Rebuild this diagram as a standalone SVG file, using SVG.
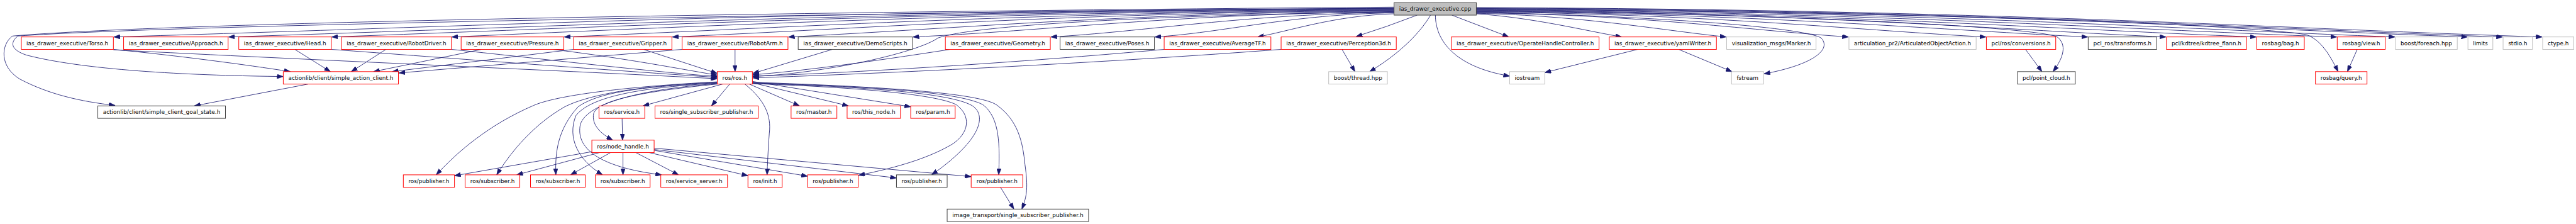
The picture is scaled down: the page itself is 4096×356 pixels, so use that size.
<svg xmlns="http://www.w3.org/2000/svg" width="4096" height="356" viewBox="0 0 4096 356">
<style>
.n rect{fill:#fff;stroke-width:1.4}
.r rect{stroke:#ff0000}
.k rect{stroke:#404040}
.g rect{stroke:#bfbfbf}
#root rect{fill:#bfbfbf;stroke:#404040}
text{font-family:"DejaVu Sans","Liberation Sans",sans-serif;font-size:12.5px;fill:#000;text-anchor:middle}
.e path{fill:none;stroke:#191970;stroke-width:1.2;marker-end:url(#a)}
</style>
<defs>
<marker id="a" viewBox="0 0 14 10" refX="14" refY="5" markerWidth="14" markerHeight="10" markerUnits="userSpaceOnUse" orient="auto"><path d="M0,0 L14,5 L0,10 z" fill="#191970" stroke="#191970" stroke-width="1"/></marker>
</defs>
<rect width="4096" height="356" fill="#fff"/>
<g transform="scale(0.70706)">
<g id="connectors" class="e">
<path d="M3135,16 C2000,24 400,48 28,81 C2,100 -2,150 45,178 C110,212 180,228 259,237"/>
<path d="M3135,18 C2000,28 400,55 40,81 C22,96 24,112 60,124 C200,160 450,170 637,172"/>
<path d="M3135,19 C1800,22 1000,62 256,83"/>
<path d="M3135,20 C1950,24 1150,64 514,83"/>
<path d="M3135,21 C2050,25 1300,64 746,83"/>
<path d="M3135,22 C2180,26 1450,65 1016,83"/>
<path d="M3135,23 C2300,27 1700,66 1269,83"/>
<path d="M3135,24 C2400,28 1900,67 1512,83"/>
<path d="M3135,25 C2520,29 2100,68 1773,83"/>
<path d="M3135,26 C2600,35 2200,55 2110,85 C2060,120 1850,165 1693,172"/>
<path d="M3135,27 C2650,30 2350,70 2053,83"/>
<path d="M3135,28 C2800,31 2570,72 2363,83"/>
<path d="M3135,29 C2900,32 2750,74 2597,83"/>
<path d="M3135,31 C3000,35 2900,70 2828,83"/>
<path d="M3187,34 Q3120,60 3050,82"/>
<path d="M3217,34 C3190,80 3140,125 3080,161"/>
<path d="M3228,34 C3228,90 3270,150 3395,171"/>
<path d="M3265,34 L3393,83"/>
<path d="M3320,31 C3450,40 3560,68 3647,83"/>
<path d="M3320,30 C3560,35 3750,70 3882,83"/>
<path d="M3320,29 C3700,33 3950,70 4157,83"/>
<path d="M3320,28 C3700,35 4050,60 4095,85 C4120,110 4080,145 3967,166"/>
<path d="M3320,27 C3850,31 4200,70 4466,83"/>
<path d="M3320,26 C3950,30 4400,70 4695,83"/>
<path d="M3320,25 C4000,30 4560,60 4625,82 C4650,100 4640,130 4617,161"/>
<path d="M3320,24 C4050,28 4550,70 4871,83"/>
<path d="M3320,23 C4100,27 4700,70 5074,83"/>
<path d="M3320,22 C4200,26 4850,70 5255,83"/>
<path d="M3320,21 C4300,26 5050,55 5187,78 C5220,90 5240,125 5258,161"/>
<path d="M3320,20 C4300,25 4950,68 5386,83"/>
<path d="M3320,19 C4400,23 5100,68 5549,83"/>
<path d="M3320,18 C4450,22 5150,68 5628,83"/>
<path d="M3320,17 C4500,21 5200,68 5717,83"/>
<path d="M255,111 C400,125 550,145 653,161"/>
<path d="M255,112 C700,135 1300,160 1613,177"/>
<path d="M663,111 L743,161"/>
<path d="M745,111 C1000,130 1400,160 1613,174"/>
<path d="M868,111 L790,161"/>
<path d="M1015,111 C1200,130 1450,160 1613,172"/>
<path d="M1083,111 L840,161"/>
<path d="M1243,111 C1400,130 1530,155 1613,169"/>
<path d="M1290,111 L882,161"/>
<path d="M1447,111 L1613,165"/>
<path d="M1534,111 L897,164"/>
<path d="M1653,111 L1653,161"/>
<path d="M1872,111 L1693,165"/>
<path d="M2137,111 C1950,140 1800,160 1693,168"/>
<path d="M2618,111 C2300,140 1900,165 1693,171"/>
<path d="M2881,111 C2500,140 2000,165 1693,175"/>
<path d="M3018,111 L3047,161"/>
<path d="M3683,111 L3474,163"/>
<path d="M3775,111 L3895,161"/>
<path d="M4555,111 L4592,161"/>
<path d="M5301,111 L5279,161"/>
<path d="M693,189 L437,238"/>
<path d="M1625,189 L1446,238"/>
<path d="M1641,189 L1600,238"/>
<path d="M1685,189 L1798,238"/>
<path d="M1692,186 L1908,238"/>
<path d="M1692,183 L2048,240"/>
<path d="M1675,189 C1720,225 1735,260 1730,300 C1727,340 1726,370 1725,393"/>
<path d="M1613,184 C1400,195 1250,215 1200,237 C1100,280 1030,340 981,393"/>
<path d="M1613,185 C1450,192 1330,210 1270,240 C1200,280 1150,340 1117,393"/>
<path d="M1613,186 C1450,195 1350,205 1300,240 C1255,290 1248,340 1250,393"/>
<path d="M1613,187 C1450,196 1330,215 1295,260 C1275,310 1300,360 1355,393"/>
<path d="M1613,188 C1450,200 1320,230 1305,280 C1295,330 1340,375 1488,393"/>
<path d="M1613,189 C1450,205 1345,225 1335,255 C1330,280 1350,300 1378,315"/>
<path d="M1399,266 L1400,315"/>
<path d="M1692,188 C1900,195 2100,210 2150,235 C2185,260 2180,300 2140,325 C2080,360 2000,380 1931,394"/>
<path d="M1692,187 C1950,195 2150,210 2190,240 C2220,265 2200,320 2095,393"/>
<path d="M1692,186 C1950,195 2150,205 2210,235 C2250,265 2248,330 2246,393"/>
<path d="M1692,185 C2000,195 2200,210 2240,235 C2290,270 2300,320 2305,370 C2312,420 2310,440 2298,470"/>
<path d="M1331,341 L1022,395"/>
<path d="M1348,343 L1162,393"/>
<path d="M1373,343 L1283,393"/>
<path d="M1401,343 L1401,393"/>
<path d="M1430,343 L1526,393"/>
<path d="M1460,343 L1682,395"/>
<path d="M1471,338 L1816,396"/>
<path d="M1471,336 L2016,400"/>
<path d="M1471,333 L2184,397"/>
<path d="M2250,421 L2280,470"/>
</g>
<g id="root" class="n"><rect x="3135" y="6" width="185" height="28"/><text x="3227.5" y="24.5" textLength="162" lengthAdjust="spacingAndGlyphs">ias_drawer_executive.cpp</text></g>
<g id="n_torso" class="n r"><rect x="48" y="83" width="207" height="28"/><text x="151.5" y="101.5" textLength="184" lengthAdjust="spacingAndGlyphs">ias_drawer_executive/Torso.h</text></g>
<g id="n_approach" class="n r"><rect x="278" y="83" width="235" height="28"/><text x="395.5" y="101.5" textLength="212" lengthAdjust="spacingAndGlyphs">ias_drawer_executive/Approach.h</text></g>
<g id="n_head" class="n r"><rect x="537" y="83" width="208" height="28"/><text x="641" y="101.5" textLength="185" lengthAdjust="spacingAndGlyphs">ias_drawer_executive/Head.h</text></g>
<g id="n_robotdriver" class="n r"><rect x="768" y="83" width="247" height="28"/><text x="891.5" y="101.5" textLength="224" lengthAdjust="spacingAndGlyphs">ias_drawer_executive/RobotDriver.h</text></g>
<g id="n_pressure" class="n r"><rect x="1037" y="83" width="231" height="28"/><text x="1152.5" y="101.5" textLength="208" lengthAdjust="spacingAndGlyphs">ias_drawer_executive/Pressure.h</text></g>
<g id="n_gripper" class="n r"><rect x="1290" y="83" width="221" height="28"/><text x="1400.5" y="101.5" textLength="198" lengthAdjust="spacingAndGlyphs">ias_drawer_executive/Gripper.h</text></g>
<g id="n_robotarm" class="n r"><rect x="1534" y="83" width="238" height="28"/><text x="1653" y="101.5" textLength="215" lengthAdjust="spacingAndGlyphs">ias_drawer_executive/RobotArm.h</text></g>
<g id="n_demoscripts" class="n k"><rect x="1795" y="83" width="257" height="28"/><text x="1923.5" y="101.5" textLength="234" lengthAdjust="spacingAndGlyphs">ias_drawer_executive/DemoScripts.h</text></g>
<g id="n_geometry" class="n r"><rect x="2126" y="83" width="236" height="28"/><text x="2244" y="101.5" textLength="213" lengthAdjust="spacingAndGlyphs">ias_drawer_executive/Geometry.h</text></g>
<g id="n_poses" class="n k"><rect x="2384" y="83" width="212" height="28"/><text x="2490" y="101.5" textLength="189" lengthAdjust="spacingAndGlyphs">ias_drawer_executive/Poses.h</text></g>
<g id="n_averagetf" class="n r"><rect x="2618" y="83" width="240" height="28"/><text x="2738" y="101.5" textLength="217" lengthAdjust="spacingAndGlyphs">ias_drawer_executive/AverageTF.h</text></g>
<g id="n_perception3d" class="n r"><rect x="2881" y="83" width="259" height="28"/><text x="3010.5" y="101.5" textLength="236" lengthAdjust="spacingAndGlyphs">ias_drawer_executive/Perception3d.h</text></g>
<g id="n_operatehandle" class="n r"><rect x="3264" y="83" width="332" height="28"/><text x="3430" y="101.5" textLength="309" lengthAdjust="spacingAndGlyphs">ias_drawer_executive/OperateHandleController.h</text></g>
<g id="n_yamlwriter" class="n r"><rect x="3619" y="83" width="241" height="28"/><text x="3739.5" y="101.5" textLength="218" lengthAdjust="spacingAndGlyphs">ias_drawer_executive/yamlWriter.h</text></g>
<g id="n_marker" class="n g"><rect x="3883" y="83" width="201" height="28"/><text x="3983.5" y="101.5" textLength="178" lengthAdjust="spacingAndGlyphs">visualization_msgs/Marker.h</text></g>
<g id="n_articulation" class="n g"><rect x="4158" y="83" width="286" height="28"/><text x="4301" y="101.5" textLength="263" lengthAdjust="spacingAndGlyphs">articulation_pr2/ArticulatedObjectAction.h</text></g>
<g id="n_conversions" class="n r"><rect x="4467" y="83" width="156" height="28"/><text x="4545" y="101.5" textLength="133" lengthAdjust="spacingAndGlyphs">pcl/ros/conversions.h</text></g>
<g id="n_transforms" class="n k"><rect x="4696" y="83" width="154" height="28"/><text x="4773" y="101.5" textLength="131" lengthAdjust="spacingAndGlyphs">pcl_ros/transforms.h</text></g>
<g id="n_kdtree" class="n r"><rect x="4872" y="83" width="180" height="28"/><text x="4962" y="101.5" textLength="157" lengthAdjust="spacingAndGlyphs">pcl/kdtree/kdtree_flann.h</text></g>
<g id="n_bag" class="n r"><rect x="5075" y="83" width="107" height="28"/><text x="5128.5" y="101.5" textLength="84" lengthAdjust="spacingAndGlyphs">rosbag/bag.h</text></g>
<g id="n_view" class="n r"><rect x="5256" y="83" width="108" height="28"/><text x="5310" y="101.5" textLength="85" lengthAdjust="spacingAndGlyphs">rosbag/view.h</text></g>
<g id="n_foreach" class="n g"><rect x="5387" y="83" width="139" height="28"/><text x="5456.5" y="101.5" textLength="116" lengthAdjust="spacingAndGlyphs">boost/foreach.hpp</text></g>
<g id="n_limits" class="n g"><rect x="5550" y="83" width="56" height="28"/><text x="5578" y="101.5" textLength="33" lengthAdjust="spacingAndGlyphs">limits</text></g>
<g id="n_stdio" class="n g"><rect x="5629" y="83" width="66" height="28"/><text x="5662" y="101.5" textLength="43" lengthAdjust="spacingAndGlyphs">stdio.h</text></g>
<g id="n_ctype" class="n g"><rect x="5718" y="83" width="70" height="28"/><text x="5753" y="101.5" textLength="47" lengthAdjust="spacingAndGlyphs">ctype.h</text></g>
<g id="n_actionclient" class="n r"><rect x="637" y="161" width="259" height="28"/><text x="766.5" y="179.5" textLength="236" lengthAdjust="spacingAndGlyphs">actionlib/client/simple_action_client.h</text></g>
<g id="n_ros" class="n r"><rect x="1613" y="161" width="79" height="28"/><text x="1652.5" y="179.5" textLength="56" lengthAdjust="spacingAndGlyphs">ros/ros.h</text></g>
<g id="n_thread" class="n g"><rect x="2988" y="161" width="132" height="28"/><text x="3054" y="179.5" textLength="109" lengthAdjust="spacingAndGlyphs">boost/thread.hpp</text></g>
<g id="n_iostream" class="n g"><rect x="3395" y="161" width="79" height="28"/><text x="3434.5" y="179.5" textLength="56" lengthAdjust="spacingAndGlyphs">iostream</text></g>
<g id="n_fstream" class="n g"><rect x="3894" y="161" width="72" height="28"/><text x="3930" y="179.5" textLength="49" lengthAdjust="spacingAndGlyphs">fstream</text></g>
<g id="n_pointcloud" class="n k"><rect x="4537" y="161" width="130" height="28"/><text x="4602" y="179.5" textLength="107" lengthAdjust="spacingAndGlyphs">pcl/point_cloud.h</text></g>
<g id="n_query" class="n r"><rect x="5207" y="161" width="116" height="28"/><text x="5265" y="179.5" textLength="93" lengthAdjust="spacingAndGlyphs">rosbag/query.h</text></g>
<g id="n_goalstate" class="n k"><rect x="220" y="238" width="287" height="28"/><text x="363.5" y="256.5" textLength="264" lengthAdjust="spacingAndGlyphs">actionlib/client/simple_client_goal_state.h</text></g>
<g id="n_service" class="n r"><rect x="1347" y="238" width="103" height="28"/><text x="1398.5" y="256.5" textLength="80" lengthAdjust="spacingAndGlyphs">ros/service.h</text></g>
<g id="n_ssp" class="n r"><rect x="1473" y="238" width="232" height="28"/><text x="1589" y="256.5" textLength="209" lengthAdjust="spacingAndGlyphs">ros/single_subscriber_publisher.h</text></g>
<g id="n_master" class="n r"><rect x="1779" y="238" width="103" height="28"/><text x="1830.5" y="256.5" textLength="80" lengthAdjust="spacingAndGlyphs">ros/master.h</text></g>
<g id="n_thisnode" class="n r"><rect x="1905" y="238" width="120" height="28"/><text x="1965" y="256.5" textLength="97" lengthAdjust="spacingAndGlyphs">ros/this_node.h</text></g>
<g id="n_param" class="n r"><rect x="2048" y="238" width="100" height="28"/><text x="2098" y="256.5" textLength="77" lengthAdjust="spacingAndGlyphs">ros/param.h</text></g>
<g id="n_nodehandle" class="n r"><rect x="1331" y="315" width="140" height="28"/><text x="1401" y="333.5" textLength="117" lengthAdjust="spacingAndGlyphs">ros/node_handle.h</text></g>
<g id="n_pub1" class="n r"><rect x="907" y="393" width="115" height="28"/><text x="964.5" y="411.5" textLength="92" lengthAdjust="spacingAndGlyphs">ros/publisher.h</text></g>
<g id="n_sub1" class="n r"><rect x="1046" y="393" width="123" height="28"/><text x="1107.5" y="411.5" textLength="100" lengthAdjust="spacingAndGlyphs">ros/subscriber.h</text></g>
<g id="n_sub2" class="n r"><rect x="1193" y="393" width="123" height="28"/><text x="1254.5" y="411.5" textLength="100" lengthAdjust="spacingAndGlyphs">ros/subscriber.h</text></g>
<g id="n_sub3" class="n r"><rect x="1339" y="393" width="123" height="28"/><text x="1400.5" y="411.5" textLength="100" lengthAdjust="spacingAndGlyphs">ros/subscriber.h</text></g>
<g id="n_serviceserver" class="n r"><rect x="1486" y="393" width="150" height="28"/><text x="1561" y="411.5" textLength="127" lengthAdjust="spacingAndGlyphs">ros/service_server.h</text></g>
<g id="n_init" class="n r"><rect x="1682" y="393" width="77" height="28"/><text x="1720.5" y="411.5" textLength="54" lengthAdjust="spacingAndGlyphs">ros/init.h</text></g>
<g id="n_pub2" class="n r"><rect x="1816" y="393" width="114" height="28"/><text x="1873" y="411.5" textLength="91" lengthAdjust="spacingAndGlyphs">ros/publisher.h</text></g>
<g id="n_pub3" class="n k"><rect x="2016" y="393" width="114" height="28"/><text x="2073" y="411.5" textLength="91" lengthAdjust="spacingAndGlyphs">ros/publisher.h</text></g>
<g id="n_pub4" class="n r"><rect x="2184" y="393" width="116" height="28"/><text x="2242" y="411.5" textLength="92" lengthAdjust="spacingAndGlyphs">ros/publisher.h</text></g>
<g id="n_imgtransport" class="n k"><rect x="2130" y="470" width="318" height="28"/><text x="2289" y="488.5" textLength="295" lengthAdjust="spacingAndGlyphs">image_transport/single_subscriber_publisher.h</text></g>
</g>
</svg>
